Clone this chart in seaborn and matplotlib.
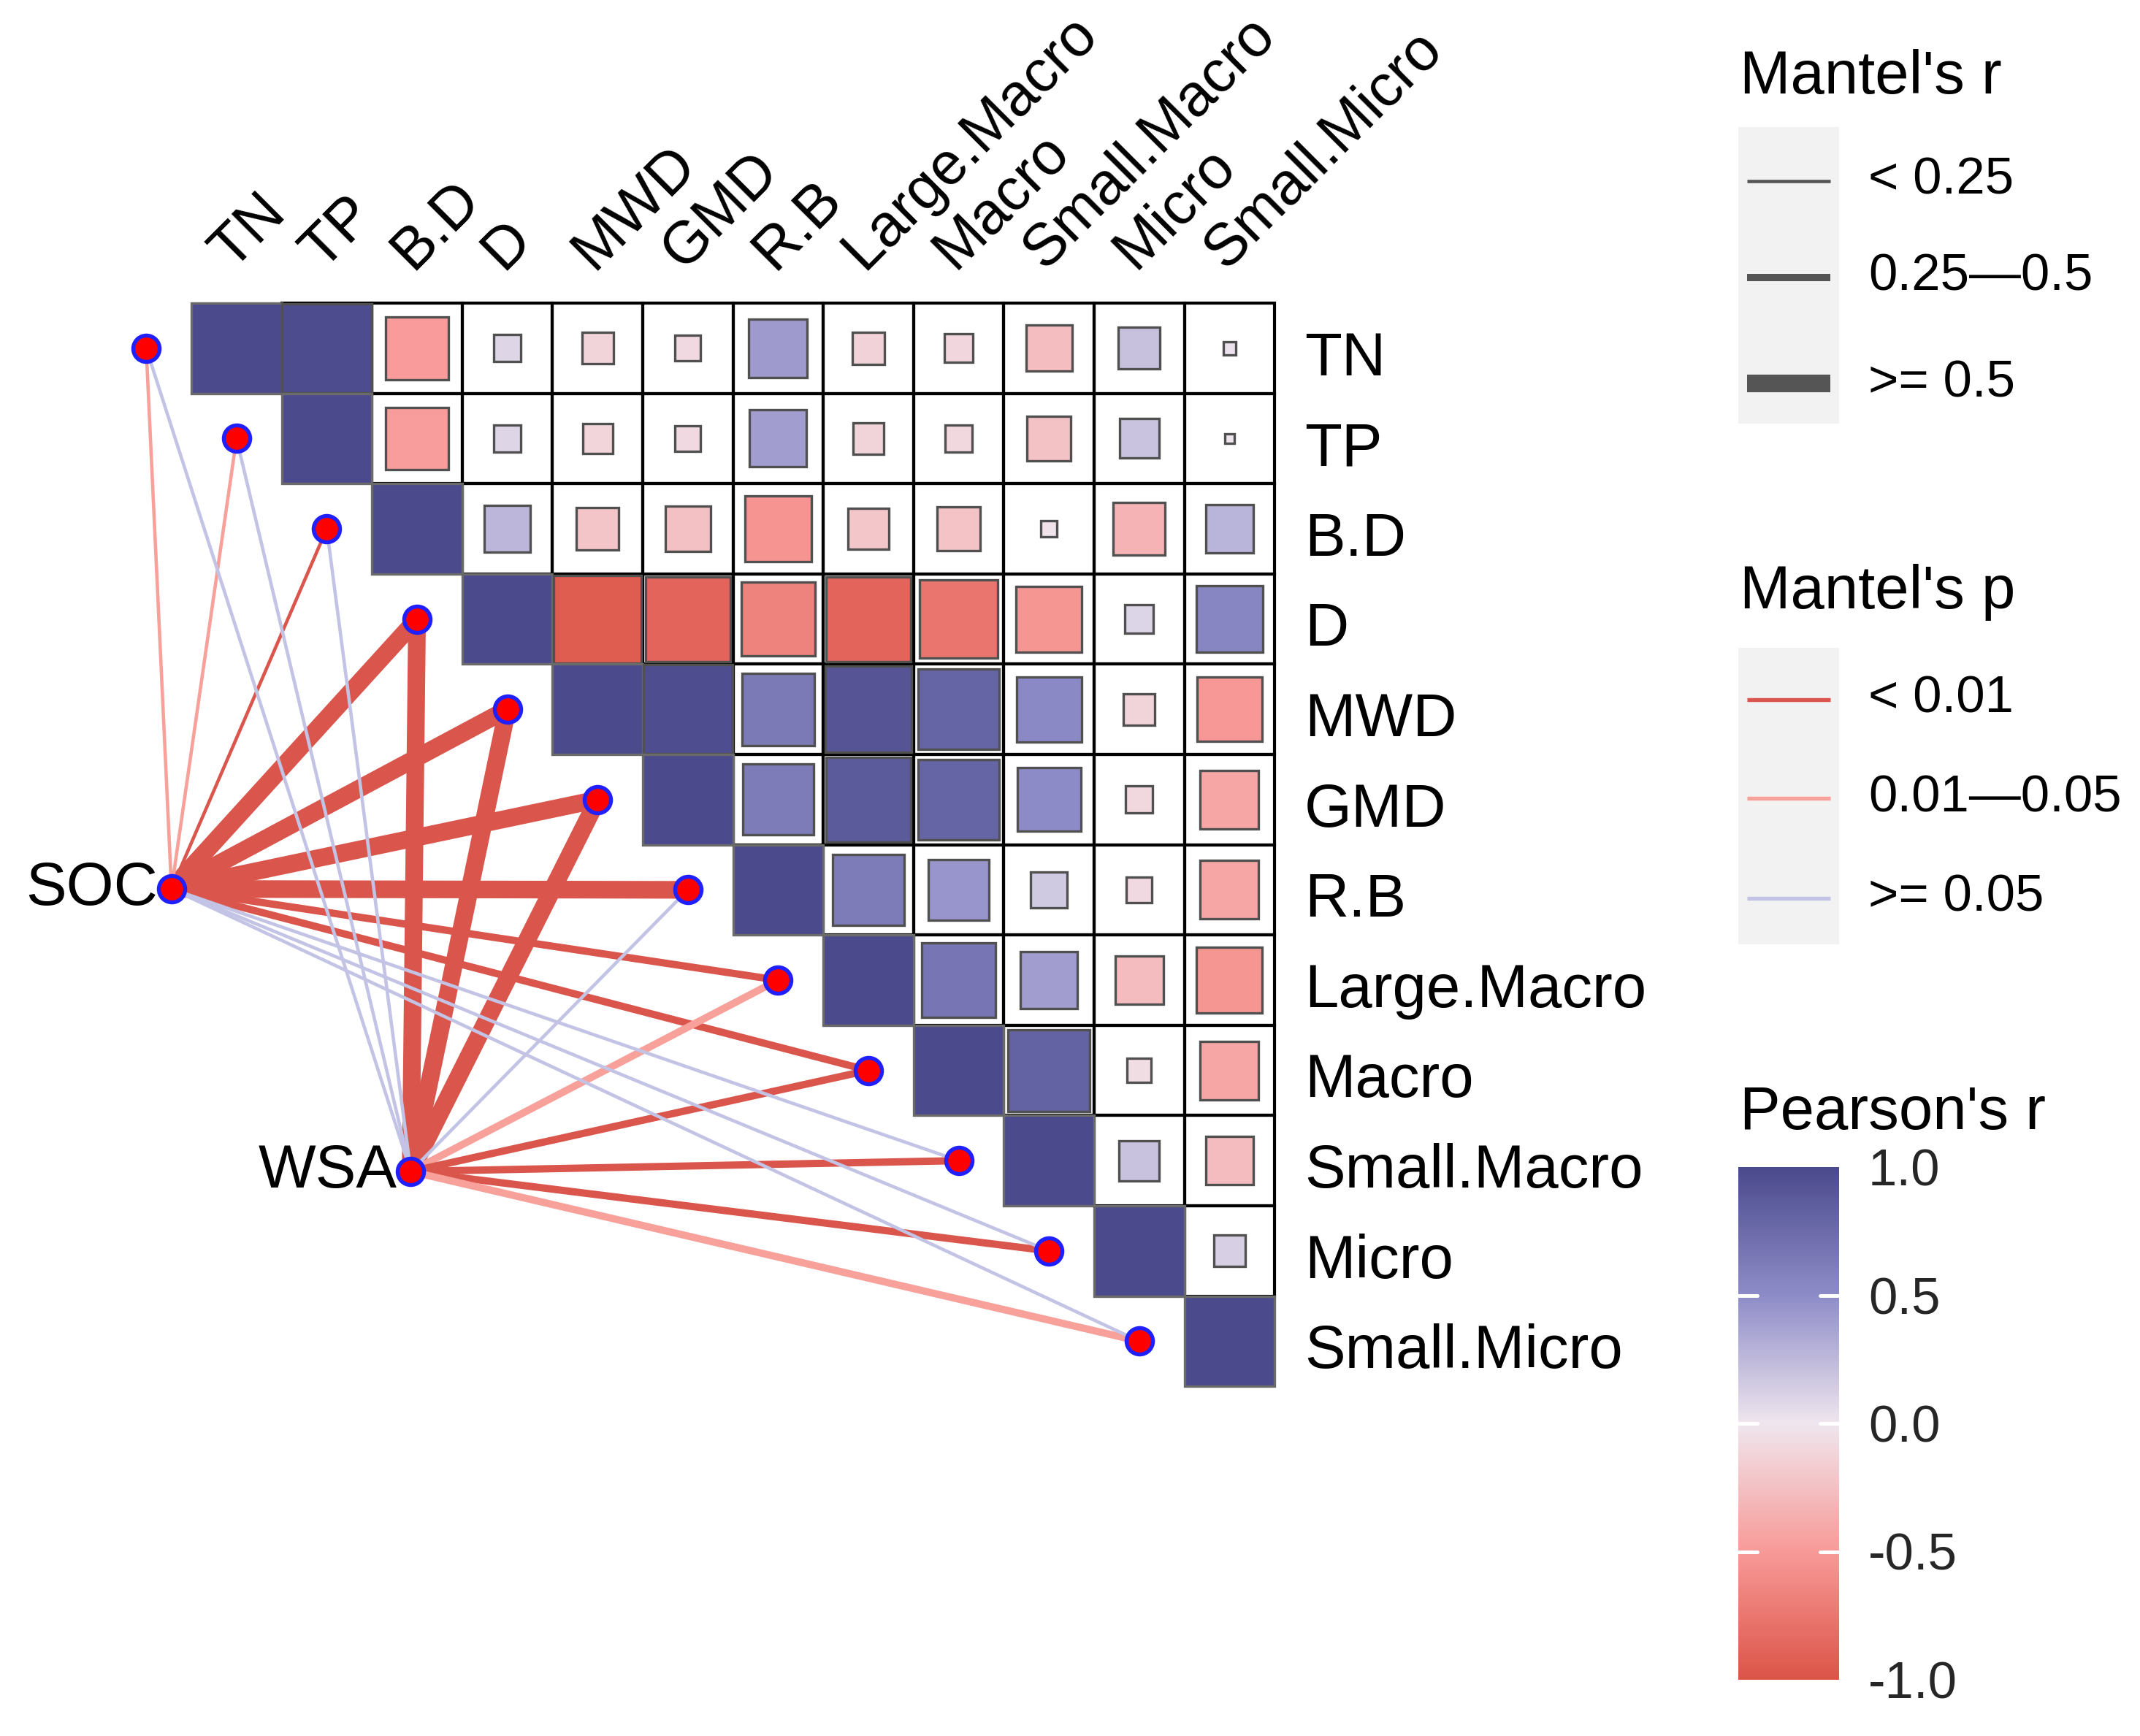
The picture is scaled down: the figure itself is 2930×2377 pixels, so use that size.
import numpy as np
import pandas as pd
import matplotlib
matplotlib.use("Agg")
import matplotlib.pyplot as plt
import seaborn as sns
from matplotlib.colors import LinearSegmentedColormap, Normalize, ListedColormap
from matplotlib.patches import Rectangle
from matplotlib.cm import ScalarMappable

# ---------------- data ----------------
variables = ["TN", "TP", "B.D", "D", "MWD", "GMD", "R.B", "Large.Macro",
             "Macro", "Small.Macro", "Micro", "Small.Micro"]

# Pearson's r, upper triangle: row i lists r(i, j) for j > i
corr_TN = [0.98, -0.49, 0.09, -0.12, -0.08, 0.42, -0.13, -0.10, -0.26, 0.21, 0.02]
corr_TP = [-0.48, 0.09, -0.11, -0.08, 0.40, -0.12, -0.09, -0.24, 0.19, 0.01]
corr_BD = [0.26, -0.22, -0.25, -0.54, -0.21, -0.23, -0.03, -0.33, 0.28]
corr_D = [-0.94, -0.88, -0.67, -0.88, -0.76, -0.53, 0.10, 0.55]
corr_MWD = [0.97, 0.64, 0.92, 0.80, 0.52, -0.12, -0.51]
corr_GMD = [0.62, 0.88, 0.80, 0.50, -0.09, -0.42]
corr_RB = [0.62, 0.45, 0.16, -0.08, -0.42]
corr_LargeMacro = [0.67, 0.40, -0.28, -0.53]
corr_Macro = [0.82, -0.07, -0.42]
corr_SmallMacro = [0.20, -0.28]
corr_Micro = [0.12]
corr_upper = [corr_TN, corr_TP, corr_BD, corr_D, corr_MWD, corr_GMD, corr_RB,
              corr_LargeMacro, corr_Macro, corr_SmallMacro, corr_Micro, []]

env_names = ["SOC", "WSA"]
mantel_r_SOC = [0.15, 0.15, 0.20, 0.62, 0.58, 0.56, 0.55, 0.35, 0.33, 0.12, 0.08, 0.10]
mantel_p_SOC = [0.020, 0.030, 0.004, 0.001, 0.001, 0.001, 0.001, 0.002, 0.003, 0.20, 0.40, 0.30]
mantel_r_WSA = [0.05, 0.06, 0.08, 0.68, 0.60, 0.57, 0.10, 0.30, 0.34, 0.40, 0.36, 0.30]
mantel_p_WSA = [0.50, 0.45, 0.30, 0.001, 0.001, 0.001, 0.15, 0.020, 0.002, 0.001, 0.002, 0.030]

r_breaks = [0.25, 0.5]
r_labels = ["< 0.25", "0.25\u20140.5", ">= 0.5"]
p_breaks = [0.01, 0.05]
p_labels = ["< 0.01", "0.01\u20140.05", ">= 0.05"]
cbar_ticks = [-1.0, -0.5, 0.0, 0.5, 1.0]

# ---------------- styles / layout ----------------
r_widths = [1.1, 2.4, 5.8]
p_colors = ["#DA554B", "#F8A09A", "#C3C3E6"]
pearson_colors = ["#DC5448", "#F89A98", "#EFE6EE", "#8E8CC8", "#4B4A8C"]
W, H, DPI = 2930, 2377, 300
X0, Y0, CELL = 262, 415, 123.6          # grid origin / cell size in pixels
env_anchor = {"SOC": (-0.22, 6.49), "WSA": (2.43, 9.62)}  # node positions in cell units

sns.set_theme(style="white")
plt.rcParams["font.family"] = ["Liberation Sans", "DejaVu Sans"]
plt.rcParams["axes.unicode_minus"] = False

cmap = LinearSegmentedColormap.from_list("pearson", list(zip([0, 0.25, 0.5, 0.75, 1.0], pearson_colors)))
norm = Normalize(-1, 1)

n = len(variables)
R = np.eye(n)
for i, row in enumerate(corr_upper):
    for k, v in enumerate(row):
        R[i, i + 1 + k] = v
        R[i + 1 + k, i] = v

fig = plt.figure(figsize=(W / DPI, H / DPI), dpi=DPI)
ax = fig.add_axes([0, 0, 1, 1])

# white background of upper-triangle cells via seaborn heatmap
grid = pd.DataFrame(np.zeros((n, n)), index=variables, columns=variables)
mask = np.tril(np.ones((n, n), dtype=bool))
sns.heatmap(grid, mask=mask, cmap=ListedColormap(["white"]), cbar=False,
            linewidths=0, ax=ax)
for c in ax.collections:
    c.set_zorder(2)

# cell borders and squares
for i in range(n):
    for j in range(i, n):
        if j > i:
            ax.add_patch(Rectangle((j, i), 1, 1, facecolor="none", edgecolor="black",
                                   lw=1.0, zorder=2.5))
        r = R[i, j]
        s = np.sqrt(abs(r))
        ec = "#6A6A6A" if i == j else "#505050"
        ax.add_patch(Rectangle((j + 0.5 - s / 2, i + 0.5 - s / 2), s, s,
                               facecolor=cmap(norm(r)), edgecolor=ec, lw=0.8, zorder=3))

# mantel links
links = []
for env, rr, pp in [("SOC", mantel_r_SOC, mantel_p_SOC), ("WSA", mantel_r_WSA, mantel_p_WSA)]:
    ex, ey = env_anchor[env]
    for i in range(n):
        wi = int(np.searchsorted(r_breaks, rr[i], side="right"))
        ci = int(np.searchsorted(p_breaks, pp[i], side="right"))
        links.append((r_widths[wi], p_colors[ci], ex, ey, i - 0.5, i + 0.5))
links.sort(key=lambda t: -t[0])
for lw, col, x1, y1, x2, y2 in links:
    ax.plot([x1, x2], [y1, y2], color=col, lw=lw, solid_capstyle="butt", zorder=1)

# nodes
node_df = pd.DataFrame({
    "x": [i - 0.5 for i in range(n)] + [env_anchor[e][0] for e in env_names],
    "y": [i + 0.5 for i in range(n)] + [env_anchor[e][1] for e in env_names],
})
sns.scatterplot(data=node_df, x="x", y="y", ax=ax, s=75, color="#FF0000",
                edgecolor="#2020FF", linewidth=1.3, zorder=5, legend=False)

for e in env_names:
    ex, ey = env_anchor[e]
    ax.text(ex - 0.15, ey, e, ha="right", va="center", fontsize=20, color="black", zorder=6)

# labels
for i, v in enumerate(variables):
    ax.text(12.33, i + 0.62, v, ha="left", va="center", fontsize=20, color="black")
    ax.text(i + 0.45, -0.36, v, ha="left", va="baseline", rotation=45,
            rotation_mode="anchor", fontsize=19.5, color="black")

ax.set_xlim(-X0 / CELL, (W - X0) / CELL)
ax.set_ylim((H - Y0) / CELL, -Y0 / CELL)
ax.set_xlabel("")
ax.set_ylabel("")
ax.axis("off")

# ---------------- legends ----------------
lax = fig.add_axes([0, 0, 1, 1])
lax.set_xlim(0, W)
lax.set_ylim(H, 0)
lax.axis("off")
lax.patch.set_alpha(0)

def key_block(title, title_y, box_top, box_bot, ys, labels, colors, widths):
    lax.text(2382, title_y, title, ha="left", va="baseline", fontsize=20, color="black")
    lax.add_patch(Rectangle((2380, box_top), 138, box_bot - box_top, facecolor="#F2F2F2", edgecolor="none"))
    for y, lab, col, lw in zip(ys, labels, colors, widths):
        lax.plot([2392, 2506], [y, y], color=col, lw=lw, solid_capstyle="butt")
        lax.text(2558, y, lab, ha="left", va="center", fontsize=17, color="black")

key_block("Mantel's r", 128, 174, 580, [248, 380, 525], r_labels, ["#555555"] * 3, r_widths)
key_block("Mantel's p", 833, 887, 1293, [958, 1093, 1230], p_labels, p_colors, [1.3] * 3)

lax.text(2382, 1546, "Pearson's r", ha="left", va="baseline", fontsize=20, color="black")
cax = fig.add_axes([2380 / W, 1 - 2300 / H, 138 / W, (2300 - 1598) / H])
cb = fig.colorbar(ScalarMappable(norm=norm, cmap=cmap), cax=cax, ticks=cbar_ticks)
cb.outline.set_visible(False)
cax.tick_params(length=0, labelsize=17, pad=9.6)
cax.set_yticklabels([f"{t:.1f}" for t in cbar_ticks])
for t in cbar_ticks[1:-1]:
    cax.plot([0, 0.19], [t, t], color="white", lw=1.2, transform=cax.get_yaxis_transform())
    cax.plot([0.81, 1.0], [t, t], color="white", lw=1.2, transform=cax.get_yaxis_transform())

fig.savefig("out.png", dpi=DPI, facecolor="white")
